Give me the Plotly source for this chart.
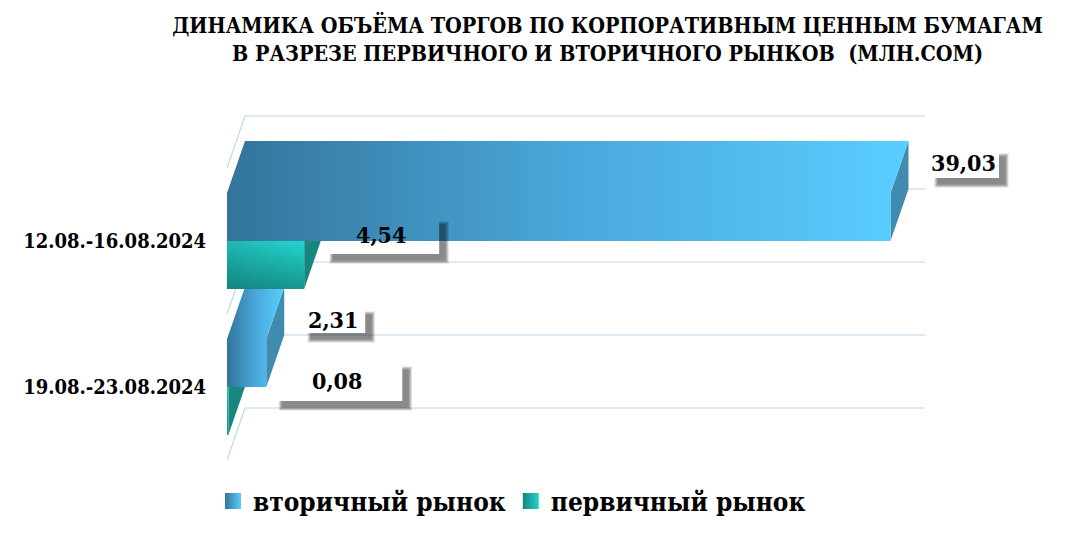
import plotly.graph_objects as go

categories = ["12.08.-16.08.2024", "19.08.-23.08.2024"]
secondary = [39.03, 2.31]
primary = [4.54, 0.08]
sec_name = "вторичный рынок"
pri_name = "первичный рынок"
title_text = "ДИНАМИКА ОБЪЁМА ТОРГОВ ПО КОРПОРАТИВНЫМ ЦЕННЫМ БУМАГАМ<br>В РАЗРЕЗЕ ПЕРВИЧНОГО И ВТОРИЧНОГО РЫНКОВ  (МЛН.СОМ)"

# the page adds an 8 px body margin around the figure
PAGE = 8
W, H = 1070 - PAGE, 537 - PAGE
ML, MT = 227 - PAGE, 80 - PAGE
PLOT_BOTTOM = 480 - PAGE
MB = H - PLOT_BOTTOM
PXX = 17.0       # px per value unit
PXY = 146.0      # px per category
CAT0_PX = 241.0  # in screenshot pixels
XMAX = (W - ML) / PXX
Y_TOP = (MT + PAGE - CAT0_PX) / PXY
Y_BOT = (PLOT_BOTTOM + PAGE - CAT0_PX) / PXY
DX = 18 / PXX
DY = -52 / PXY
BAR = 48 / PXY
FONT = "DejaVu Serif Condensed"

fig = go.Figure()

def poly(xs, ys, color=None, grad=None):
    kw = dict(fillgradient=grad) if grad else dict(fillcolor=color)
    fig.add_trace(go.Scatter(x=xs + xs[:1], y=ys + ys[:1], mode="lines", fill="toself",
                             line=dict(width=0), hoverinfo="skip", showlegend=False, **kw))

# gridlines on the back wall plus their floor diagonals
GRID_COLOR = "#BDD7EE"
for g in [-0.5, 0, 0.5, 1, 1.5]:
    fig.add_trace(go.Scatter(x=[0, DX, 40 + DX], y=[g, g + DY, g + DY], mode="lines",
                             line=dict(color=GRID_COLOR, width=1.2), hoverinfo="skip", showlegend=False))

# label boxes: (dx of centre from bar end in px, centre y in screenshot px, w, h)
label_boxes = {
    (0, "s"): (73, 162.5, 71, 31),
    (0, "p"): (77, 234.5, 116, 39),
    (1, "s"): (67, 319, 64, 28),
    (1, "p"): (109, 380.5, 130, 41),
}

def box_of(c, kind):
    val = secondary[c] if kind == "s" else primary[c]
    off, cy_px, w, h = label_boxes[(c, kind)]
    cx = val + off / PXX
    cy = (cy_px - CAT0_PX) / PXY
    return cx, cy, w / PXX / 2, h / PXY / 2, val

for c in [1, 0]:
    for kind in ["p", "s"]:
        cx, cy, hw, hh, val = box_of(c, kind)
        poly([cx - hw, cx + hw, cx + hw, cx - hw], [cy - hh, cy - hh, cy + hh, cy + hh], "#FFFFFF")

GREEN_FRONT = dict(type="vertical", colorscale=[[0, "#15978E"], [1, "#25D4D0"]])
GREEN_SHADE = dict(type="horizontal", colorscale=[[0, "rgba(0,40,40,0.16)"], [1, "rgba(0,40,40,0)"]])
BLUE_FRONT = dict(type="horizontal", colorscale=[[0, "#33749A"], [0.5, "#4AA7DB"], [1, "#5ACEFF"]])

for c in [1, 0]:
    # primary (lower half of the category)
    v = primary[c]
    t, b = c, c + BAR
    poly([v, v + DX, v + DX, v], [t, t + DY, b + DY, b], "#16867E")
    poly([0, v, v, 0], [t, t, b, b], grad=GREEN_FRONT)
    poly([0, v, v, 0], [t, t, b, b], grad=GREEN_SHADE)
    # secondary (upper half)
    v = secondary[c]
    t, b = c - BAR, c
    poly([v, v + DX, v + DX, v], [t, t + DY, b + DY, b], "#3F8CB0")
    poly([0, DX, v + DX, v, v, 0], [t, t + DY, t + DY, t, b, b], grad=BLUE_FRONT)

# soft shadows, right and below each label box
SX, SY = 8 / PXX, 8 / PXY
for c in [1, 0]:
    for kind in ["p", "s"]:
        cx, cy, hw, hh, val = box_of(c, kind)
        x0, x1, y0, y1 = cx - hw, cx + hw, cy - hh, cy + hh
        for grow in [1.5, 0.5, -0.5, -1.5]:
            gx, gy = grow / PXX, grow / PXY
            ox0, ox1 = x0 + SX - gx, x1 + SX + gx
            oy0, oy1 = y0 + SY - gy, y1 + SY + gy
            poly([x1, ox1, ox1, ox0, ox0, x1], [oy0, oy0, oy1, oy1, y1, y1], "rgba(0,0,0,0.14)")
        fig.add_annotation(x=cx, y=cy, xref="x", yref="y", showarrow=False,
                           text=f"{val:.2f}".replace(".", ","),
                           font=dict(family=FONT, size=23, color="#000000", weight="bold"))

# legend entries
fig.add_trace(go.Scatter(x=[None], y=[None], mode="markers", name=sec_name,
                         marker=dict(symbol="square", size=16, color="#33749A",
                                     gradient=dict(type="horizontal", color="#5ACEFF"))))
fig.add_trace(go.Scatter(x=[None], y=[None], mode="markers", name=pri_name,
                         marker=dict(symbol="square", size=16, color="#14857D",
                                     gradient=dict(type="horizontal", color="#24D2CE"))))

fig.update_layout(
    width=W, height=H, autosize=False,
    paper_bgcolor="#FFFFFF", plot_bgcolor="#FFFFFF",
    margin=dict(l=ML, r=0, t=MT, b=MB, pad=0),
    title=dict(text=title_text, x=(607.5 - PAGE) / W, xanchor="center", y=1 - 25 / H, yanchor="middle",
               font=dict(family=FONT, size=21.4, color="#000000", weight="bold")),
    xaxis=dict(range=[0, XMAX], visible=False, fixedrange=True),
    yaxis=dict(range=[Y_BOT, Y_TOP], tickvals=[0, 1], ticktext=categories, showgrid=False,
               zeroline=False, showline=False, ticks="outside", ticklen=16,
               tickcolor="rgba(0,0,0,0)", fixedrange=True,
               tickfont=dict(family=FONT, size=20, color="#000000", weight="bold")),
    legend=dict(orientation="h", x=-14 / (W - ML), xanchor="left",
                y=(PLOT_BOTTOM - (501 - PAGE)) / (PLOT_BOTTOM - MT), yanchor="middle",
                font=dict(family=FONT, size=26, color="#000000", weight="bold"),
                bgcolor="rgba(0,0,0,0)"),
)
fig.write_html("out.html", config={"displayModeBar": False})
